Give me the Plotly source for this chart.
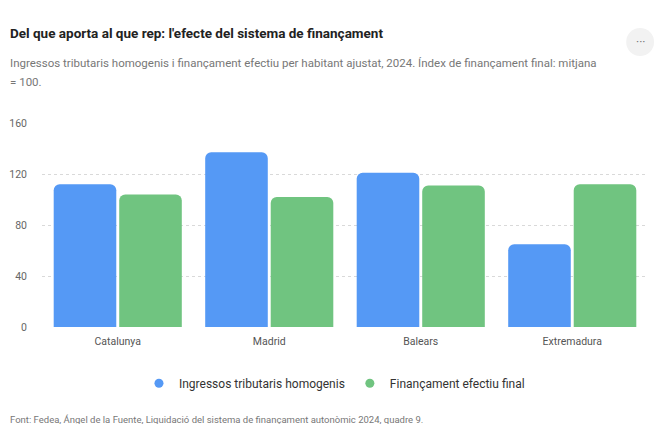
import plotly.graph_objects as go

# dades (índex, mitjana = 100)
regions = ["Catalunya", "Madrid", "Balears", "Extremadura"]
ingressos = [112, 137, 121, 65]
financament = [104, 102, 111, 112]
y_ticks = [0, 40, 80, 120, 160]

blue = "#5599f5"
green = "#70c480"
font_family = "Roboto, Open Sans, sans-serif"

fig = go.Figure()

fig.add_trace(go.Bar(
    x=regions, y=ingressos, name="Ingressos tributaris homogenis",
    marker=dict(color=blue, line=dict(width=0)), showlegend=False,
))
fig.add_trace(go.Bar(
    x=regions, y=financament, name="Finançament efectiu final",
    marker=dict(color=green, line=dict(width=0)), showlegend=False,
))

# legend entries with round markers
for name, color in [("Ingressos tributaris homogenis", blue), ("Finançament efectiu final", green)]:
    fig.add_trace(go.Scatter(
        x=[None], y=[None], mode="markers", name=name,
        marker=dict(symbol="circle", size=9, color=color),
    ))

# the page body has an 8px margin, so keep the figure small enough to avoid scrollbars
fig.update_layout(
    width=656,
    height=416,
    margin=dict(l=34, r=16, t=115, b=97),
    paper_bgcolor="white",
    plot_bgcolor="white",
    font=dict(family=font_family, size=11, color="#555"),
    barmode="group",
    bargap=0.135,
    bargroupgap=0.045,
    barcornerradius=6,
    showlegend=True,
    legend=dict(
        orientation="h", x=0.16, xanchor="left", y=-0.276, yanchor="middle",
        font=dict(size=12, color="#333"), itemwidth=30, tracegroupgap=0,
    ),
    xaxis=dict(
        showgrid=False, showline=False, ticks="", automargin=False,
        ticklabelstandoff=6, tickfont=dict(size=10.5, color="#555"),
    ),
    yaxis=dict(
        range=[0, 160], tickvals=y_ticks, showgrid=True, gridcolor="#d9d9d9",
        griddash="dot", gridwidth=1, zeroline=False, showline=False, automargin=False,
        ticklabelstandoff=14, tickfont=dict(size=10.5, color="#666"),
    ),
    annotations=[
        dict(text="<b>Del que aporta al que rep: l'efecte del sistema de finançament</b>",
             xref="paper", yref="paper", x=-0.056, y=1.44, xanchor="left", yanchor="middle",
             showarrow=False, font=dict(size=13.5, color="#222")),
        dict(text="Ingressos tributaris homogenis i finançament efectiu per habitant ajustat, 2024. Índex de finançament final: mitjana",
             xref="paper", yref="paper", x=-0.056, y=1.296, xanchor="left", yanchor="middle",
             showarrow=False, font=dict(size=11.5, color="#777")),
        dict(text="= 100.",
             xref="paper", yref="paper", x=-0.056, y=1.202, xanchor="left", yanchor="middle",
             showarrow=False, font=dict(size=11.5, color="#777")),
        dict(text="Font: Fedea, Ángel de la Fuente, Liquidació del sistema de finançament autonòmic 2024, quadre 9.",
             xref="paper", yref="paper", x=-0.056, y=-0.451, xanchor="left", yanchor="middle",
             showarrow=False, font=dict(size=9.5, color="#777")),
        dict(text="···", xref="paper", yref="paper", x=0.987, y=1.397, xanchor="center", yanchor="middle",
             showarrow=False, font=dict(size=12, color="#777")),
    ],
    shapes=[
        dict(type="circle", xref="paper", yref="paper", x0=0.964, x1=1.010, y0=1.328, y1=1.466,
             fillcolor="#f2f2f2", line=dict(width=0), layer="below"),
    ],
)

fig.write_html("out.html")
